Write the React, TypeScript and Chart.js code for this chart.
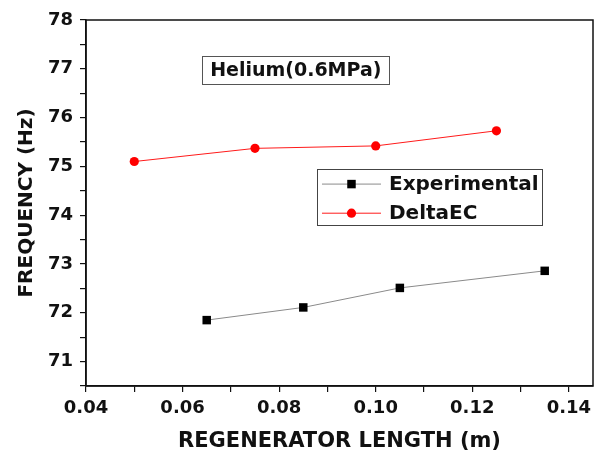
import React, { useEffect, useRef } from 'react';
import { Chart, registerables } from 'chart.js';
Chart.register(...registerables);

// ---- data ----
const expX = [0.065, 0.085, 0.105, 0.135];
const expY = [71.85, 72.11, 72.51, 72.86];
const decX = [0.05, 0.075, 0.1, 0.125];
const decY = [75.1, 75.37, 75.42, 75.73];
const seriesNames = ['Experimental', 'DeltaEC'];
const annotationText = 'Helium(0.6MPa)';
const xTitle = 'REGENERATOR LENGTH (m)';
const yTitle = 'FREQUENCY (Hz)';
const xRange = [0.04, 0.145];
const yRange = [70.5, 78];

const FONT = '"DejaVu Sans", "Liberation Sans", Arial, sans-serif';
const INK = '#111';

const overlayPlugin = {
  id: 'overlay',
  afterDraw(chart: any) {
    const ctx = chart.ctx as CanvasRenderingContext2D;
    const { left, right, top, bottom } = chart.chartArea;
    const w = right - left;
    const h = bottom - top;
    ctx.save();
    // frame
    ctx.strokeStyle = INK;
    ctx.lineWidth = 1.5;
    ctx.strokeRect(left, top, w, h);

    // annotation box
    ctx.font = `bold 19px ${FONT}`;
    ctx.textBaseline = 'middle';
    ctx.textAlign = 'center';
    const ax = left + w * 0.4138;
    const ay = top + h * 0.1366;
    const tw = ctx.measureText(annotationText).width;
    ctx.strokeStyle = '#555';
    ctx.lineWidth = 1;
    ctx.strokeRect(Math.round(ax - tw / 2 - 8) + 0.5, Math.round(ay - 14) + 0.5, Math.round(tw + 16), 28);
    ctx.fillStyle = INK;
    ctx.fillText(annotationText, ax, ay + 1);

    // legend box
    const lx0 = left + w * 0.4556;
    const lx1 = left + w * 0.899;
    const ly0 = top + h * 0.407;
    const ly1 = top + h * 0.56;
    ctx.strokeStyle = '#444';
    ctx.lineWidth = 1;
    ctx.strokeRect(Math.round(lx0) + 0.5, Math.round(ly0) + 0.5, Math.round(lx1 - lx0), Math.round(ly1 - ly0));
    const rows = [ly0 + (ly1 - ly0) * 0.27, ly0 + (ly1 - ly0) * 0.79];
    chart.data.datasets.forEach((ds: any, i: number) => {
      const y = rows[i];
      const sx0 = lx0 + 5;
      const sx1 = lx0 + 64;
      const mx = (sx0 + sx1) / 2;
      ctx.strokeStyle = ds.borderColor;
      ctx.lineWidth = ds.borderWidth;
      ctx.beginPath();
      ctx.moveTo(sx0, y);
      ctx.lineTo(sx1, y);
      ctx.stroke();
      ctx.fillStyle = ds.pointBackgroundColor;
      if (ds.pointStyle === 'rect') {
        const s = ds.pointRadius * Math.SQRT1_2;
        ctx.fillRect(mx - s, y - s, 2 * s, 2 * s);
      } else {
        ctx.beginPath();
        ctx.arc(mx, y, ds.pointRadius, 0, Math.PI * 2);
        ctx.fill();
      }
      ctx.fillStyle = INK;
      ctx.font = `bold 20px ${FONT}`;
      ctx.textAlign = 'left';
      ctx.textBaseline = 'middle';
      ctx.fillText(seriesNames[i], lx0 + 72, y + 1);
    });
    ctx.restore();
  },
};

export default function App() {
  const ref = useRef<HTMLCanvasElement | null>(null);
  useEffect(() => {
    if (!ref.current) return;
    const chart = new Chart(ref.current, {
      type: 'line',
      data: {
        datasets: [
          {
            label: seriesNames[0],
            data: expX.map((x, i) => ({ x, y: expY[i] })),
            borderColor: '#8a8a8a',
            borderWidth: 1,
            pointStyle: 'rect',
            pointRadius: 6,
            pointBackgroundColor: '#000',
            pointBorderColor: '#000',
            pointBorderWidth: 0,
          },
          {
            label: seriesNames[1],
            data: decX.map((x, i) => ({ x, y: decY[i] })),
            borderColor: '#ff1a1a',
            borderWidth: 1,
            pointStyle: 'circle',
            pointRadius: 4.6,
            pointBackgroundColor: '#ff0000',
            pointBorderColor: '#ff0000',
            pointBorderWidth: 0,
          },
        ],
      },
      options: {
        animation: false,
        responsive: false,
        layout: { padding: { left: 0, right: 7, top: 20, bottom: 0 } },
        plugins: { legend: { display: false }, tooltip: { enabled: false } },
        scales: {
          x: {
            type: 'linear',
            min: xRange[0],
            max: xRange[1],
            afterFit: (s: any) => { s.height = 71; },
            grid: { drawOnChartArea: false, drawTicks: true, tickLength: 6, color: INK, lineWidth: 1.2 },
            border: { display: true, color: INK, width: 1.5 },
            ticks: {
              stepSize: 0.01,
              includeBounds: false,
              autoSkip: false,
              maxRotation: 0,
              padding: 6,
              color: INK,
              font: { family: FONT, size: 18, weight: 'bold' },
              callback: (v: any) => {
                const n = Math.round(Number(v) * 1000);
                return n % 20 === 0 ? (n / 1000).toFixed(2) : '';
              },
            },
            title: {
              display: true,
              text: xTitle,
              color: INK,
              font: { family: FONT, size: 21, weight: 'bold' },
              padding: { top: 0, bottom: 3 },
            },
          },
          y: {
            type: 'linear',
            min: yRange[0],
            max: yRange[1],
            afterFit: (s: any) => { s.width = 86; },
            grid: { drawOnChartArea: false, drawTicks: true, tickLength: 6, color: INK, lineWidth: 1.2 },
            border: { display: true, color: INK, width: 1.5 },
            ticks: {
              stepSize: 0.5,
              autoSkip: false,
              padding: 7,
              color: INK,
              font: { family: FONT, size: 18, weight: 'bold' },
              callback: (v: any) => {
                const n = Number(v);
                return Math.abs(n - Math.round(n)) < 1e-6 ? String(Math.round(n)) : '';
              },
            },
            title: {
              display: true,
              text: yTitle,
              color: INK,
              font: { family: FONT, size: 20, weight: 'bold' },
              padding: { top: 15, bottom: 0 },
            },
          },
        },
      },
      plugins: [overlayPlugin],
    } as any);
    return () => chart.destroy();
  }, []);
  return (
    <div style={{ position: 'absolute', left: 0, top: 0, width: 600, height: 457, background: '#fff' }}>
      <canvas ref={ref} width={600} height={457} style={{ display: 'block' }} />
    </div>
  );
}
